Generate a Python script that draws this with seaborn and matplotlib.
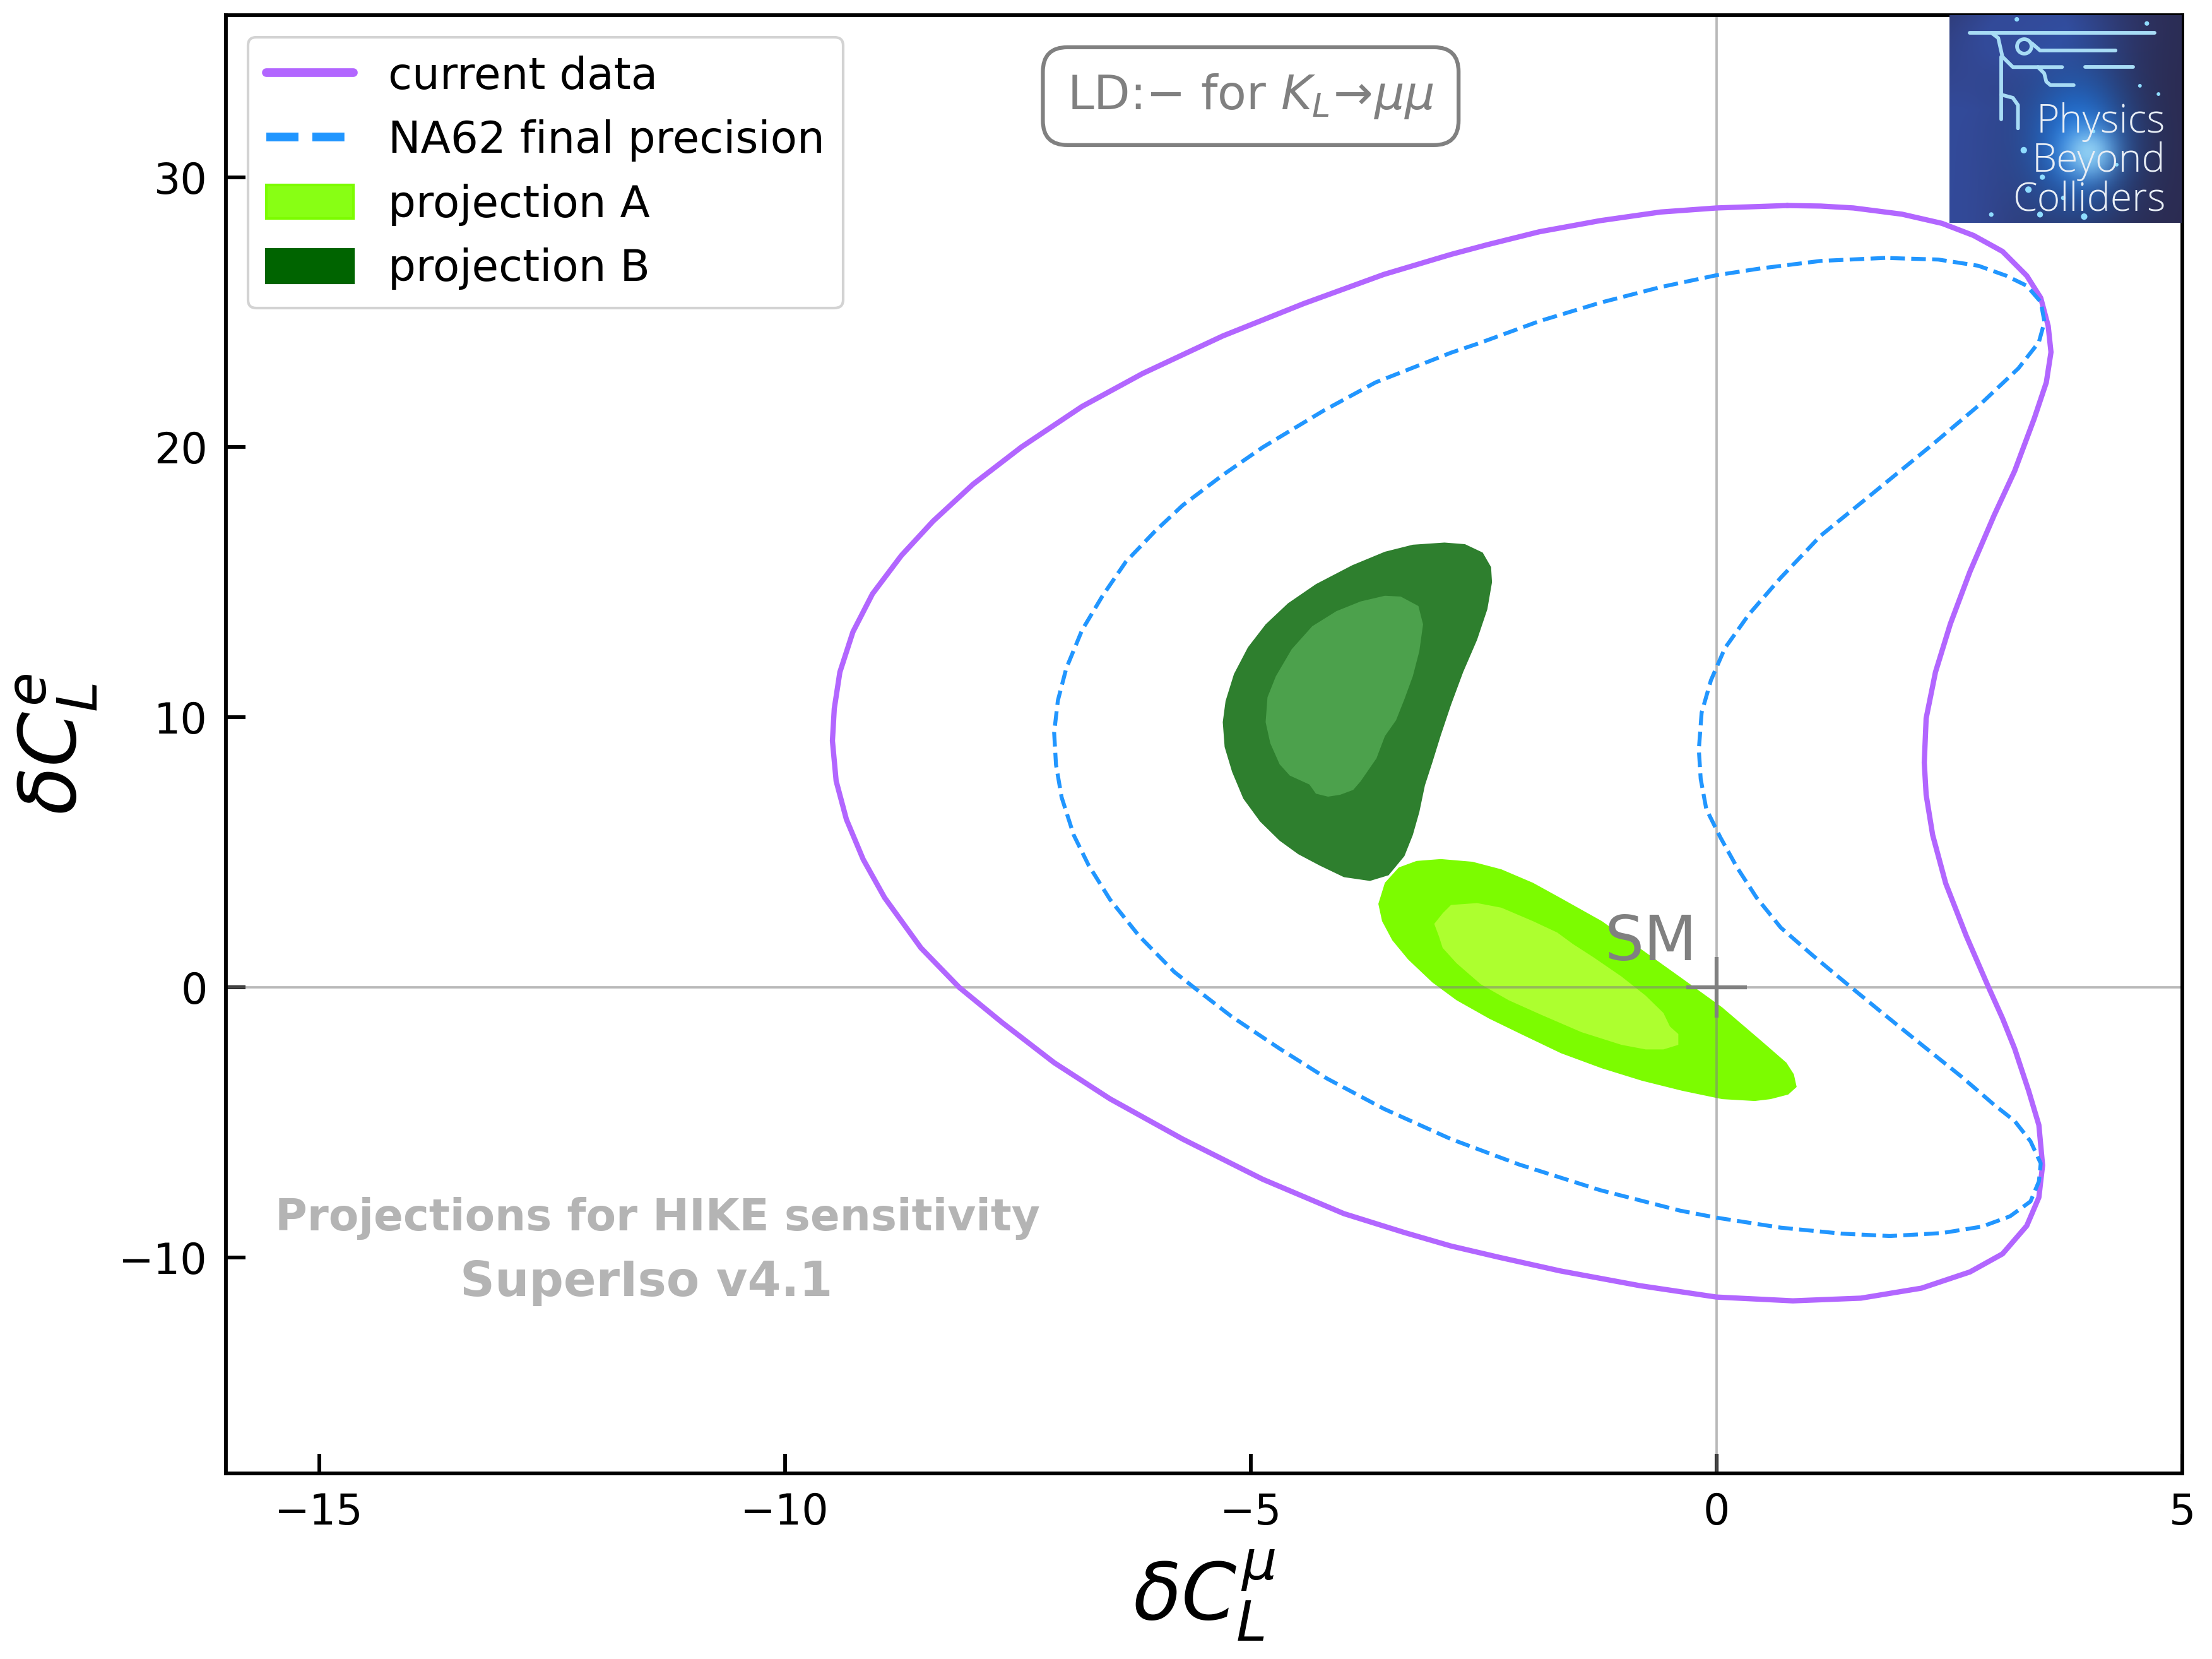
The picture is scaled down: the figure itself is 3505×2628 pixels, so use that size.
import numpy as np
import pandas as pd
import matplotlib.pyplot as plt
import seaborn as sns
from matplotlib.lines import Line2D
from matplotlib.patches import Patch

# contours (closed below)
current_x = [0.76, 0.0, -0.6, -1.25, -1.9, -2.46, -2.85, -3.57, -4.43, -5.3, -6.16, -6.81, -7.46, -7.98, -8.41, -8.75, -9.06, -9.27, -9.41, -9.47, -9.49, -9.45, -9.34, -9.16, -8.93, -8.54, -8.13, -7.67, -7.11, -6.51, -5.73, -4.87, -4.0, -3.35, -2.85, -2.33, -1.68, -0.82, 0.0, 0.82, 1.55, 2.2, 2.72, 3.07, 3.33, 3.46, 3.5, 3.46, 3.35, 3.2, 3.07, 2.92, 2.68, 2.46, 2.32, 2.25, 2.23, 2.25, 2.35, 2.51, 2.72, 2.98, 3.2, 3.41, 3.54, 3.59, 3.56, 3.48, 3.33, 3.07, 2.76, 2.42, 1.99, 1.47, 1.12]
current_y = [28.95, 28.86, 28.71, 28.39, 27.98, 27.5, 27.14, 26.4, 25.32, 24.12, 22.73, 21.51, 20.01, 18.63, 17.26, 15.99, 14.57, 13.16, 11.67, 10.32, 9.13, 7.64, 6.22, 4.74, 3.32, 1.46, 0.0, -1.3, -2.79, -4.13, -5.62, -7.11, -8.38, -9.08, -9.58, -10.0, -10.5, -11.05, -11.47, -11.61, -11.51, -11.14, -10.54, -9.87, -8.83, -7.78, -6.59, -5.1, -3.83, -2.27, -1.15, 0.0, 1.91, 3.85, 5.64, 7.13, 8.32, 9.96, 11.67, 13.46, 15.39, 17.48, 19.12, 21.06, 22.4, 23.52, 24.49, 25.53, 26.35, 27.25, 27.84, 28.29, 28.63, 28.86, 28.93]

na62_x = [1.81, 1.12, 0.47, 0.0, -0.6, -1.25, -1.9, -2.55, -2.85, -3.66, -4.22, -4.87, -5.3, -5.73, -6.03, -6.34, -6.59, -6.81, -6.98, -7.07, -7.11, -7.09, -7.03, -6.9, -6.74, -6.51, -6.2, -5.82, -5.6, -5.21, -4.69, -4.18, -3.57, -2.85, -2.12, -1.25, -0.39, 0.0, 0.69, 1.34, 1.86, 2.42, 2.85, 3.15, 3.37, 3.46, 3.48, 3.37, 3.2, 2.98, 2.63, 2.2, 1.77, 1.43, 1.04, 0.69, 0.43, 0.22, 0.04, -0.11, -0.17, -0.19, -0.16, -0.06, 0.09, 0.35, 0.69, 1.12, 1.68, 2.29, 2.85, 3.24, 3.46, 3.52, 3.48, 3.33, 3.11, 2.81, 2.38]
na62_y = [27.01, 26.9, 26.62, 26.37, 25.93, 25.35, 24.67, 23.85, 23.5, 22.4, 21.35, 20.0, 18.97, 17.85, 16.88, 15.76, 14.5, 13.23, 11.81, 10.62, 9.43, 8.24, 7.04, 5.64, 4.52, 3.25, 1.91, 0.57, -0.03, -1.07, -2.27, -3.38, -4.5, -5.62, -6.56, -7.51, -8.27, -8.53, -8.9, -9.12, -9.21, -9.1, -8.86, -8.48, -7.93, -7.19, -6.52, -5.7, -4.95, -4.35, -3.31, -2.12, -0.92, 0.04, 1.16, 2.21, 3.32, 4.44, 5.56, 6.6, 7.72, 8.8, 10.17, 11.37, 12.56, 13.82, 15.17, 16.73, 18.3, 20.02, 21.65, 22.92, 23.89, 24.64, 25.38, 25.98, 26.35, 26.72, 26.95]

b_outer_x = [-2.92, -2.70, -2.51, -2.42, -2.41, -2.46, -2.57, -2.72, -2.85, -2.96, -3.05, -3.13, -3.19, -3.26, -3.35, -3.52, -3.72, -4.0, -4.26, -4.49, -4.69, -4.90, -5.08, -5.2, -5.28, -5.3, -5.27, -5.18, -5.03, -4.84, -4.6, -4.3, -3.91, -3.56, -3.26]
b_outer_y = [16.47, 16.41, 16.10, 15.56, 15.0, 14.0, 12.87, 11.67, 10.46, 9.33, 8.33, 7.48, 6.49, 5.64, 4.86, 4.15, 3.94, 4.08, 4.51, 4.93, 5.43, 6.14, 6.99, 7.98, 8.9, 9.82, 10.6, 11.6, 12.59, 13.44, 14.22, 14.93, 15.63, 16.13, 16.39]
b_inner_x = [-3.56, -3.39, -3.2, -3.15, -3.19, -3.26, -3.35, -3.44, -3.56, -3.65, -3.82, -3.9, -4.04, -4.17, -4.3, -4.37, -4.58, -4.69, -4.79, -4.84, -4.82, -4.73, -4.56, -4.34, -4.08, -3.82]
b_inner_y = [14.5, 14.47, 14.12, 13.44, 12.45, 11.52, 10.67, 9.89, 9.3, 8.48, 7.63, 7.31, 7.13, 7.06, 7.17, 7.51, 7.84, 8.26, 9.04, 9.82, 10.74, 11.52, 12.52, 13.37, 13.93, 14.29]

a_outer_x = [-2.96, -2.62, -2.31, -1.97, -1.67, -1.23, -0.8, -0.37, 0.06, 0.49, 0.75, 0.83, 0.86, 0.77, 0.58, 0.41, 0.06, -0.37, -0.8, -1.23, -1.67, -2.1, -2.44, -2.79, -3.05, -3.31, -3.48, -3.59, -3.63, -3.56, -3.41, -3.22]
a_outer_y = [4.75, 4.65, 4.37, 3.87, 3.3, 2.45, 1.39, 0.33, -0.74, -2.01, -2.79, -3.22, -3.69, -3.97, -4.14, -4.21, -4.14, -3.83, -3.46, -3.0, -2.44, -1.73, -1.16, -0.48, 0.18, 1.03, 1.74, 2.45, 3.09, 3.87, 4.44, 4.68]
a_inner_x = [-2.85, -2.57, -2.31, -1.97, -1.71, -1.54, -1.32, -1.02, -0.76, -0.57, -0.5, -0.41, -0.41, -0.57, -0.76, -1.02, -1.45, -1.88, -2.23, -2.53, -2.79, -2.94, -2.98, -3.03, -2.94]
a_inner_y = [3.05, 3.12, 2.95, 2.45, 2.03, 1.6, 1.11, 0.4, -0.31, -0.95, -1.45, -1.73, -2.13, -2.3, -2.3, -2.13, -1.66, -1.02, -0.48, 0.11, 0.89, 1.46, 1.89, 2.35, 2.74]

x_ticks = [-15, -10, -5, 0, 5]
y_ticks = [-10, 0, 10, 20, 30]
legend_labels = ['current data', 'NA62 final precision', 'projection A', 'projection B']
logo_words = ['Physics', 'Beyond', 'Colliders']

# a few stars in the logo
star_x = [0.29, 0.34, 0.85, 0.32, 0.39, 0.40, 0.18, 0.82, 0.62, 0.90, 0.58, 0.72, 0.49]
star_y = [0.98, 0.16, 0.96, 0.35, 0.04, 0.22, 0.04, 0.66, 0.44, 0.62, 0.03, 0.28, 0.12]
star_s = [3, 6, 3, 6, 5, 4, 3, 2, 2, 2, 6, 2, 3]

W, H = 3505, 2628
sns.set_style('ticks', {'text.color': 'black', 'axes.labelcolor': 'black', 'xtick.color': 'black',
                        'ytick.color': 'black', 'axes.edgecolor': 'black'})
plt.rcParams['font.family'] = ['DejaVu Sans']

fig = plt.figure(figsize=(W/300, H/300), dpi=300)
ax = fig.add_axes([358/W, 1-2334/H, 3100/W, 2310/H])

# fits
ax.fill(b_outer_x, b_outer_y, color='#2e7f2e', lw=0, zorder=1)
ax.fill(b_inner_x, b_inner_y, color='#4ca14c', lw=0, zorder=1.1)
ax.fill(a_outer_x, a_outer_y, color='#7cfc00', lw=0, zorder=1)
ax.fill(a_inner_x, a_inner_y, color='#adff2f', lw=0, zorder=1.1)

ax.axhline(0, color='grey', alpha=0.55, lw=0.9, zorder=1.5)
ax.axvline(0, color='grey', alpha=0.55, lw=0.9, zorder=1.5)

cur = pd.DataFrame({'x': current_x + current_x[:1], 'y': current_y + current_y[:1]})
na = pd.DataFrame({'x': na62_x + na62_x[:1], 'y': na62_y + na62_y[:1]})
sns.lineplot(data=cur, x='x', y='y', sort=False, estimator=None, color='#b266ff', lw=2, ax=ax, zorder=2)
sns.lineplot(data=na, x='x', y='y', sort=False, estimator=None, color='#2196ff', lw=1.5, ls='--', ax=ax, zorder=2.1)

ax.plot([0], [0], marker='+', ms=23, mew=1.5, color='grey', zorder=3)
ax.text(-1.2, 1.0, 'SM', color='grey', fontsize=23.5, zorder=3)

ax.set_xlim(-16, 5)
ax.set_ylim(-18, 36)
ax.set_xticks(x_ticks)
ax.set_yticks(y_ticks)
ax.tick_params(direction='in', length=7.5, width=1.4, labelsize=16, pad=7)
for s in ax.spines.values():
    s.set_linewidth(1.4)
    s.set_visible(True)
ax.set_xlabel(r'$\delta C_L^{\mu}$', fontsize=30, labelpad=5.5)
ax.set_ylabel(r'$\delta C_L^{e}$', fontsize=30, labelpad=7.5)

ax.text(-5.0, 33.0, r'LD:$-$ for $K_L\!\to\!\mu\mu$', color='grey', fontsize=18, ha='center', va='center',
        bbox=dict(boxstyle='round,pad=0.52', fc='white', ec='grey', lw=1.5))
ax.text(-11.37, -8.55, 'Projections for HIKE sensitivity', color='#b4b4b4', fontsize=16.6, fontweight='bold', ha='center', va='center')
ax.text(-11.49, -10.95, 'SuperIso v4.1', color='#b4b4b4', fontsize=18.3, fontweight='bold', ha='center', va='center')

handles = [Line2D([], [], color='#b266ff', lw=3.3),
           Line2D([], [], color='#2196ff', lw=3.3, ls='--'),
           Patch(fc='#88ff14', ec='#7cfc00'),
           Patch(fc='#006400', ec='#006400')]
ax.legend(handles, legend_labels, loc='upper left', fontsize=16.6, handlelength=2.0, handleheight=0.8,
          edgecolor='lightgrey', framealpha=1, borderaxespad=0.5, borderpad=0.42, bbox_to_anchor=(0, 1))

# logo
logo = fig.add_axes([3089/W, 1-353/H, 368/W, 329/H], zorder=5)
gy, gx = np.mgrid[0:1:200j, 0:1:220j]
glow = np.exp(-((gx-0.55)**2/0.05 + (gy-0.6)**2/0.12))
core = np.exp(-((gx-0.6)**2/0.012 + (gy-0.66)**2/0.015))
left = np.exp(-(gx/0.4)**2)*(0.35 + 0.65*np.clip(gy*2.2, 0, 1))
low = np.exp(-((gy-0.05)**2/0.06))*np.exp(-((gx-0.4)**2/0.12))
base = np.array([0.17, 0.17, 0.32])
blue = np.array([0.2, 0.29, 0.6])
bright = np.array([0.12, 0.45, 0.85])
white = np.array([0.55, 0.8, 0.95])
rgb = base + (blue-base)[None, None, :]*np.clip(left+low, 0, 1)[..., None]
rgb = rgb*(1-glow[..., None]) + bright*glow[..., None]
rgb = rgb*(1-core[..., None]) + white*core[..., None]
logo.imshow(rgb, extent=[0, 1, 0, 1], aspect='auto', zorder=0)
logo.scatter(star_x, star_y, s=star_s, color='#8fdcff', lw=0, zorder=1)
c = '#a8dcf5'
lw_logo = 1.4
logo.plot([0.088, 0.883], [0.914, 0.914], color=c, lw=lw_logo)
logo.plot([0.354, 0.39, 0.715], [0.865, 0.83, 0.83], color=c, lw=lw_logo)
logo.plot([0.182, 0.21, 0.228, 0.273, 0.485], [0.914, 0.89, 0.80, 0.75, 0.75], color=c, lw=lw_logo)
logo.plot([0.584, 0.792], [0.75, 0.75], color=c, lw=lw_logo)
logo.plot([0.223, 0.223], [0.80, 0.50], color=c, lw=lw_logo)
logo.plot([0.381, 0.408, 0.417, 0.435, 0.535], [0.75, 0.72, 0.68, 0.663, 0.663], color=c, lw=lw_logo)
logo.plot([0.223, 0.273, 0.295, 0.295], [0.617, 0.602, 0.567, 0.455], color=c, lw=lw_logo)
logo.plot([0.322], [0.85], marker='o', ms=5.5, mfc='none', mec=c, mew=lw_logo)
for word, wy in zip(logo_words, [0.485, 0.295, 0.11]):
    logo.text(0.93, wy, word, color='#e8eef5', fontsize=15, family='Open Sans', fontweight='light',
              ha='right', va='center')
logo.set_xlim(0, 1)
logo.set_ylim(0, 1)
logo.axis('off')

fig.savefig('out.png', dpi=300)
